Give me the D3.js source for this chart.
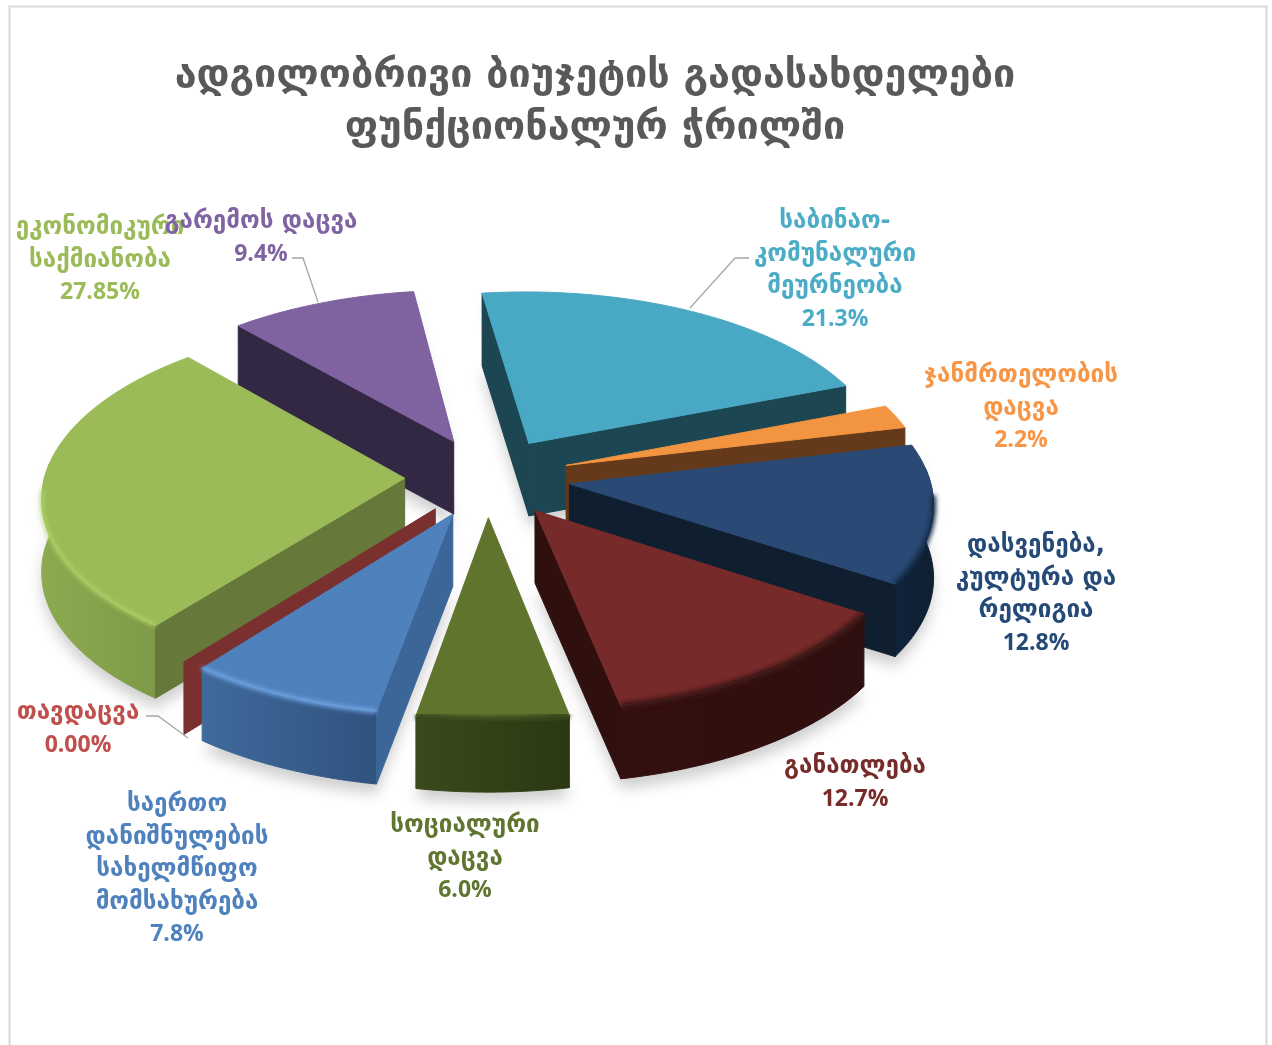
<!DOCTYPE html>
<html><head><meta charset="utf-8">
<script src="https://cdn.jsdelivr.net/npm/d3@7/dist/d3.min.js"></script>
<style>html,body{margin:0;padding:0;background:#fff}svg{display:block}</style>
</head><body><svg id="c" width="1272" height="1045"></svg>
<script>
const categories = ["საბინაო-კომუნალური მეურნეობა","ჯანმრთელობის დაცვა","დასვენება, კულტურა და რელიგია","განათლება","სოციალური დაცვა","საერთო დანიშნულების სახელმწიფო მომსახურება","თავდაცვა","ეკონომიკური საქმიანობა","გარემოს დაცვა"];
const values = [21.3,2.2,12.8,12.7,6.0,7.8,0.0,27.85,9.4];
const valueLabels = ["21.3%","2.2%","12.8%","12.7%","6.0%","7.8%","0.00%","27.85%","9.4%"];
const labelLines = [["საბინაო-","კომუნალური","მეურნეობა"],["ჯანმრთელობის","დაცვა"],["დასვენება,","კულტურა და","რელიგია"],["განათლება"],["სოციალური","დაცვა"],["საერთო","დანიშნულების","სახელმწიფო","მომსახურება"],["თავდაცვა"],["ეკონომიკური","საქმიანობა"],["გარემოს დაცვა"]];
const titleLines = ["ადგილობრივი ბიუჯეტის გადასახდელები","ფუნქციონალურ ჭრილში"];
const topColors  = ["#49a8c4","#f39540","#2a4a75","#772a2a","#61742e","#4f81bd","#7b3030","#9bbb59","#7f62a0"];
const wallColors = ["#1d4653","#643a1b","#101f30","#300f0f","#3a4a1c","#3c6698","#7b3030","#66783a","#332844"];
const arcColorsL = ["#1d4653","#643a1b","#10233a","#340f0f","#3a4a1c","#3f6a9c","#7b3030","#8cab50","#332844"];
const arcColorsR = ["#1d4653","#643a1b","#101f30","#2e0f0f","#2b3812","#30527e","#7b3030","#7d9a46","#332844"];
const bevelColors= [null,null,"#142a44","#3a1212","#38461a","#78b0f0",null,"#b4d86c",null];
const bevelWidths= [0,0,5,7,7,3.5,0,3,0];
const labelAnchors = [[835,228],[1021,382],[1036,552],[855,773],[465,832],[177,811],[78,719],[100,234],[261,228]];
const leaders = [[[749,258],[735,258],[690,308]],[[292,258],[303,258],[318,302]],[[146,716],[158,716],[188,738]]];

const cx=487.5, cy=477, Rx=360, Ry=173, tilt=.10, depth=72.5, explode=.23, rotation=-7.7*Math.PI/180;
const xs=d3.scaleLinear().domain([-1,1]).range([cx-Rx,cx+Rx]);
const ys=d3.scaleLinear().domain([-1,1]).range([cy-Ry,cy+Ry]);
const project=(X,Y,z=0)=>{const p=1/(1-tilt*Y);return [xs(X*p),ys(Y*p)+z*depth]};

const pie=d3.pie().value(d=>d).sort(null).startAngle(rotation).endAngle(rotation+2*Math.PI);
const arcs=pie(values);
const svg=d3.select("#c");
const defs=svg.append("defs");
const blur=(id,s)=>defs.append("filter").attr("id",id).attr("x","-20%").attr("y","-20%").attr("width","140%").attr("height","140%").append("feGaussianBlur").attr("stdDeviation",s);
blur("sh",7);blur("bv",2);
values.forEach((_,i)=>{const g=defs.append("linearGradient").attr("id","w"+i);
 g.append("stop").attr("offset",0).attr("stop-color",arcColorsL[i]);
 g.append("stop").attr("offset",1).attr("stop-color",arcColorsR[i]);});

svg.append("rect").attr("x",9.5).attr("y",6.5).attr("width",1257).attr("height",1060).attr("fill","#fff").attr("stroke","#d9d9d9").attr("stroke-width",2);

const line=d3.line();
const slices=arcs.map((a,i)=>{
  const m=(a.startAngle+a.endAngle)/2;
  const X0=explode*Math.sin(m), Y0=-explode*Math.cos(m);
  const n=Math.max(2,Math.ceil((a.endAngle-a.startAngle)/0.02));
  const angles=d3.range(n+1).map(k=>a.startAngle+(a.endAngle-a.startAngle)*k/n);
  const rim=angles.map(t=>({t,X:X0+Math.sin(t),Y:Y0-Math.cos(t)}));
  return {i,X0,Y0,rim,a};
});
const order=slices.slice().sort((p,q)=>p.Y0-q.Y0);

// soft shadow under everything
const shadow=svg.append("g").attr("filter","url(#sh)").attr("opacity",.28).attr("transform","translate(0,10)");
slices.forEach(s=>{
  const top=[project(s.X0,s.Y0,1),...s.rim.map(r=>project(r.X,r.Y,1))];
  shadow.append("path").attr("d",line(top)+"Z").attr("fill","#555");
  const front=[project(s.X0,s.Y0,0),...s.rim.map(r=>project(r.X,r.Y,0))];
  shadow.append("path").attr("d",line(front)+"Z").attr("fill","#555").attr("opacity",.35);
});

const chart=svg.append("g");
order.forEach(s=>{
  const g=chart.append("g"), i=s.i, a=s.a;
  const A=[s.X0,s.Y0], first=s.rim[0], last=s.rim[s.rim.length-1];
  const quad=(r)=>[project(A[0],A[1],0),project(r.X,r.Y,0),project(r.X,r.Y,1),project(A[0],A[1],1)];
  const fill=(d,c)=>g.append("path").attr("d",d).attr("fill",c).attr("stroke",c).attr("stroke-width",1).attr("stroke-linejoin","round");
  const front=s.rim.filter(r=>Math.cos(r.t)<0.1);
  if(front.length>1){
    const poly=[...front.map(r=>project(r.X,r.Y,0)),...front.slice().reverse().map(r=>project(r.X,r.Y,1))];
    fill(line(poly)+"Z","url(#w"+i+")");
  }
  if(Math.sin(a.startAngle)<0) fill(line(quad(first))+"Z",wallColors[i]);
  if(Math.sin(a.endAngle)>0)  fill(line(quad(last))+"Z",wallColors[i]);
  if(a.endAngle>a.startAngle){
    fill(line([project(A[0],A[1],0),...s.rim.map(r=>project(r.X,r.Y,0))])+"Z",topColors[i]);
    const bev=s.rim.filter(r=>Math.cos(r.t)<-0.05);
    if(bevelColors[i]&&bev.length>1){
      g.append("path").attr("d",line(bev.map(r=>project(r.X,r.Y,0)))).attr("fill","none")
       .attr("stroke",bevelColors[i]).attr("stroke-width",bevelWidths[i]).attr("filter","url(#bv)");
    }
  }
});

// leader lines
svg.append("g").selectAll("path").data(leaders).join("path").attr("d",d=>line(d)).attr("fill","none").attr("stroke","#a6a6a6").attr("stroke-width",1.3);

// labels
const labels=svg.append("g").attr("font-weight",700).attr("text-anchor","middle");
const textColors=["#4bacc6","#f79646","#264a78","#772c2a","#5f7530","#4f81bd","#c0504d","#9bbb59","#8064a2"];
labelLines.forEach((ls,i)=>{
  const [x,y]=labelAnchors[i];
  const t=labels.append("text").attr("fill",textColors[i]);
  ls.forEach((l,k)=>t.append("tspan").attr("x",x).attr("y",y+k*32.6).attr("font-family",'"DejaVu Sans"').attr("font-size",24.2).text(l));
  t.append("tspan").attr("x",x).attr("y",y+ls.length*32.6).attr("font-family",'"Open Sans","Noto Sans",sans-serif').attr("font-size",23).text(valueLabels[i]);
});
// title
const tt=svg.append("g").attr("font-family",'"DejaVu Sans"').attr("font-weight",700).attr("font-size",39.5).attr("fill","#595959").attr("text-anchor","middle");
titleLines.forEach((l,k)=>tt.append("text").attr("x",595).attr("y",87+k*52).text(l));
</script></body></html>
